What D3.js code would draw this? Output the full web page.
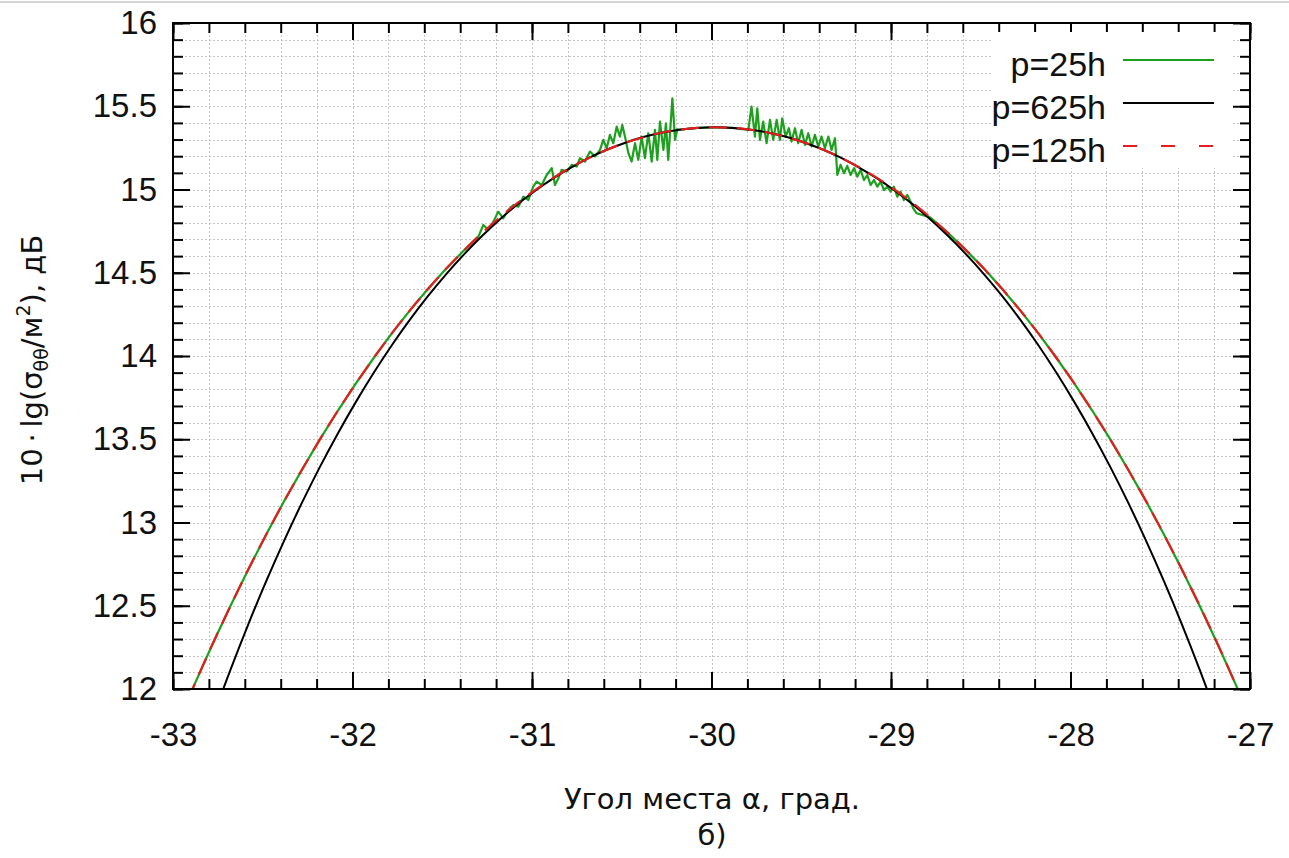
<!DOCTYPE html>
<html><head><meta charset="utf-8">
<script src="https://cdn.jsdelivr.net/npm/d3@7"></script>
<style>
body{margin:0;background:#fff;}
text{font-family:"Liberation Sans",Arial,sans-serif;fill:#111;}
.title{font-family:"DejaVu Sans",Verdana,sans-serif;}
</style>
</head><body>
<svg id="chart" width="1289" height="858"></svg>
<script>
// ---------- DATA ----------
const xTickValues = [-33,-32,-31,-30,-29,-28,-27];
const xTickLabels = ["-33","-32","-31","-30","-29","-28","-27"];
const yTickValues = [12,12.5,13,13.5,14,14.5,15,15.5,16];
const yTickLabels = ["12","12.5","13","13.5","14","14.5","15","15.5","16"];
const seriesNames = ["p=25h","p=625h","p=125h"];

const angles = [-32.98,-32.88,-32.78,-32.68,-32.58,-32.48,-32.38,-32.28,-32.18,-32.08,
  -31.98,-31.88,-31.78,-31.68,-31.58,-31.48,-31.38,-31.28,-31.18,-31.08,
  -30.98,-30.88,-30.78,-30.68,-30.58,-30.48,-30.38,-30.28,-30.18,-30.08,
  -29.98,
  -29.88,-29.78,-29.68,-29.58,-29.48,-29.38,-29.28,-29.18,-29.08,-28.98,
  -28.88,-28.78,-28.68,-28.58,-28.48,-28.38,-28.28,-28.18,-28.08,-27.98,
  -27.88,-27.78,-27.68,-27.58,-27.48,-27.38,-27.28,-27.18,-27.08,-26.98];

const p625 = [11.186,11.514,11.823,12.115,12.390,12.649,12.893,13.122,13.337,13.538,
  13.726,13.902,14.066,14.218,14.359,14.489,14.609,14.719,14.820,14.912,
  14.994,15.068,15.133,15.191,15.240,15.281,15.315,15.341,15.359,15.370,
  15.374,
  15.370,15.359,15.341,15.315,15.281,15.240,15.191,15.133,15.068,14.994,
  14.912,14.820,14.719,14.609,14.489,14.359,14.218,14.066,13.902,13.726,
  13.538,13.337,13.122,12.893,12.649,12.390,12.115,11.823,11.514,11.186];

const p125 = [11.777,12.028,12.269,12.499,12.719,12.929,13.130,13.320,13.502,13.674,
  13.837,13.991,14.137,14.274,14.402,14.522,14.633,14.737,14.832,14.920,
  14.999,15.071,15.135,15.191,15.240,15.281,15.314,15.341,15.359,15.370,
  15.374,
  15.370,15.359,15.341,15.314,15.281,15.240,15.191,15.135,15.071,14.999,
  14.920,14.832,14.737,14.633,14.522,14.402,14.274,14.137,13.991,13.837,
  13.674,13.502,13.320,13.130,12.929,12.719,12.499,12.269,12.028,11.777];

// p=25h: oscillating parts (elsewhere it coincides with p=125h)
const p25Left = [[-31.299,14.717],[-31.271,14.787],[-31.243,14.757],[-31.215,14.807],[-31.188,14.867],
  [-31.160,14.827],[-31.132,14.877],[-31.104,14.907],[-31.076,14.897],[-31.048,14.957],[-31.020,14.937],
  [-30.993,15.017],[-30.974,15.047],[-30.946,15.027],[-30.918,15.087],[-30.890,15.128],[-30.872,15.027],
  [-30.853,15.067],[-30.835,15.118],[-30.807,15.108],[-30.779,15.148],[-30.751,15.138],[-30.733,15.188],
  [-30.705,15.168],[-30.677,15.228],[-30.649,15.198],[-30.621,15.238],[-30.603,15.298],[-30.584,15.248],
  [-30.566,15.328],[-30.547,15.278],[-30.528,15.378],[-30.510,15.318],[-30.497,15.388],[-30.482,15.318],
  [-30.463,15.218],[-30.445,15.168],[-30.426,15.278],[-30.408,15.178],[-30.389,15.318],[-30.371,15.188],
  [-30.352,15.338],[-30.333,15.168],[-30.315,15.358],[-30.302,15.178],[-30.287,15.408],[-30.268,15.238],
  [-30.254,15.398],[-30.241,15.178],[-30.218,15.548],[-30.203,15.298],[-30.190,15.362]];
const p25Right = [[-29.795,15.358],[-29.777,15.498],[-29.758,15.318],[-29.745,15.488],[-29.730,15.298],
  [-29.712,15.408],[-29.693,15.278],[-29.674,15.418],[-29.656,15.298],[-29.637,15.418],[-29.619,15.298],
  [-29.606,15.428],[-29.587,15.318],[-29.569,15.368],[-29.554,15.288],[-29.535,15.368],[-29.517,15.278],
  [-29.498,15.358],[-29.479,15.268],[-29.461,15.338],[-29.442,15.258],[-29.424,15.328],[-29.405,15.258],
  [-29.387,15.318],[-29.368,15.248],[-29.349,15.318],[-29.331,15.238],[-29.312,15.308],[-29.299,15.087],
  [-29.281,15.148],[-29.262,15.098],[-29.244,15.142],[-29.225,15.087],[-29.206,15.128],[-29.188,15.077],
  [-29.169,15.118],[-29.151,15.057],[-29.132,15.087],[-29.114,15.027],[-29.095,15.057],[-29.076,15.017],
  [-29.058,15.047],[-29.039,14.997],[-29.021,15.017],[-29.002,14.987],[-28.984,15.017],[-28.965,14.957],
  [-28.947,14.987],[-28.928,14.937],[-28.909,14.967],[-28.891,14.927],[-28.876,14.887],[-28.857,14.857]];

// ---------- CHART ----------
const svg = d3.select("#chart");
const L = 173, R = 1250, T = 23, B = 689;
const x = d3.scaleLinear().domain([-33,-27]).range([L,R]);
const y = d3.scaleLinear().domain([12,16]).range([B,T]);

svg.append("line").attr("x1",0).attr("x2",1289).attr("y1",2).attr("y2",2)
  .attr("stroke","#d4d4d4").attr("stroke-width",2);

// grid
const xMinor = x.ticks(30), yMinor = y.ticks(40);
const grid = svg.append("g").attr("stroke","#c4c4c4").attr("stroke-width",1).attr("stroke-dasharray","2,2");
grid.selectAll(".gx").data(xMinor.slice(1,-1)).join("line")
  .attr("x1",d=>Math.round(x(d))+0.5).attr("x2",d=>Math.round(x(d))+0.5).attr("y1",T).attr("y2",B);
grid.selectAll(".gy").data(yMinor.slice(1,-1)).join("line")
  .attr("y1",d=>Math.round(y(d))+0.5).attr("y2",d=>Math.round(y(d))+0.5).attr("x1",L).attr("x2",R);

// curves
svg.append("clipPath").attr("id","clip").append("rect")
  .attr("x",L).attr("y",T).attr("width",R-L).attr("height",B-T);
const plot = svg.append("g").attr("clip-path","url(#clip)");

const redPts = angles.map((a,i)=>[a,p125[i]]);
const blackPts = angles.map((a,i)=>[a,p625[i]]);
const lo1 = p25Left[0][0], hi1 = p25Left[p25Left.length-1][0];
const lo2 = p25Right[0][0], hi2 = p25Right[p25Right.length-1][0];
const greenPts = redPts.filter(p=>!((p[0]>=lo1&&p[0]<=hi1)||(p[0]>=lo2&&p[0]<=hi2)))
  .concat(p25Left,p25Right).sort((a,b)=>a[0]-b[0]);

const lineLin = d3.line().x(d=>x(d[0])).y(d=>y(d[1]));
const lineSmooth = d3.line().x(d=>x(d[0])).y(d=>y(d[1])).curve(d3.curveCatmullRom);

plot.append("path").datum(greenPts).attr("d",lineLin)
  .attr("fill","none").attr("stroke","#1ea01e").attr("stroke-width",2.2).attr("stroke-linejoin","round");
plot.append("path").datum(blackPts).attr("d",lineSmooth)
  .attr("fill","none").attr("stroke","#000").attr("stroke-width",2);
plot.append("path").datum(redPts).attr("d",lineSmooth)
  .attr("fill","none").attr("stroke","#e41e1e").attr("stroke-width",2.2).attr("stroke-dasharray","18,10");

// axes
const xMajorSize = 17, minorSize = 10;
function styleAxis(g){ g.select(".domain").remove(); g.selectAll("line").attr("stroke","#000").attr("stroke-width",2); }

svg.append("g").attr("transform",`translate(0,${B})`)
  .call(d3.axisBottom(x).tickValues(xMinor).tickSize(-minorSize).tickFormat("")).call(styleAxis);
svg.append("g").attr("transform",`translate(0,${T})`)
  .call(d3.axisTop(x).tickValues(xMinor).tickSize(-minorSize).tickFormat("")).call(styleAxis);
svg.append("g").attr("transform",`translate(${L},0)`)
  .call(d3.axisLeft(y).tickValues(yMinor).tickSize(-minorSize).tickFormat("")).call(styleAxis);
svg.append("g").attr("transform",`translate(${R},0)`)
  .call(d3.axisRight(y).tickValues(yMinor).tickSize(-minorSize).tickFormat("")).call(styleAxis);

const xb = svg.append("g").attr("transform",`translate(0,${B})`)
  .call(d3.axisBottom(x).tickValues(xTickValues).tickSize(-xMajorSize).tickPadding(34)
    .tickFormat((d,i)=>xTickLabels[i])).call(styleAxis);
xb.selectAll("text").attr("font-size",33).attr("font-family","Liberation Sans, Arial, sans-serif").attr("fill","#111");
svg.append("g").attr("transform",`translate(0,${T})`)
  .call(d3.axisTop(x).tickValues(xTickValues).tickSize(-xMajorSize).tickFormat("")).call(styleAxis);
const yl = svg.append("g").attr("transform",`translate(${L},0)`)
  .call(d3.axisLeft(y).tickValues(yTickValues).tickSize(-xMajorSize).tickPadding(16)
    .tickFormat((d,i)=>yTickLabels[i])).call(styleAxis);
yl.selectAll("text").attr("font-size",33).attr("font-family","Liberation Sans, Arial, sans-serif").attr("fill","#111");
svg.append("g").attr("transform",`translate(${R},0)`)
  .call(d3.axisRight(y).tickValues(yTickValues).tickSize(-xMajorSize).tickFormat("")).call(styleAxis);

svg.append("rect").attr("x",L).attr("y",T).attr("width",R-L).attr("height",B-T)
  .attr("fill","none").attr("stroke","#000").attr("stroke-width",2);

// legend
const lg = svg.append("g");
lg.append("rect").attr("x",992).attr("y",32).attr("width",241).attr("height",136).attr("fill","#fff");
const legColors = ["#1ea01e","#000","#e41e1e"];
const legDash = [null,null,"14,24"];
seriesNames.forEach((n,i)=>{
  const cy = 60 + i*43;
  lg.append("text").attr("x",1106).attr("y",cy+16).attr("text-anchor","end")
    .attr("font-size",34).text(n);
  lg.append("line").attr("x1",1123).attr("x2",1214).attr("y1",cy).attr("y2",cy)
    .attr("stroke",legColors[i]).attr("stroke-width",2).attr("stroke-dasharray",legDash[i]);
});

// axis titles
svg.append("text").attr("class","title").attr("x",712).attr("y",809).attr("text-anchor","middle")
  .attr("font-size",29).text("Угол места α, град.");
svg.append("text").attr("class","title").attr("x",712).attr("y",845).attr("text-anchor","middle")
  .attr("font-size",29).text("б)");

const yt = svg.append("text").attr("class","title").attr("transform","translate(42,360) rotate(-90)")
  .attr("text-anchor","middle").attr("font-size",29);
yt.append("tspan").text("10\u2009·\u2009lg(σ");
yt.append("tspan").attr("font-size",19).attr("dy",6).text("θθ");
yt.append("tspan").attr("dy",-6).text("/м");
yt.append("tspan").attr("font-size",19).attr("dy",-12).text("2");
yt.append("tspan").attr("dy",12).text("), дБ");
</script>
</body></html>
